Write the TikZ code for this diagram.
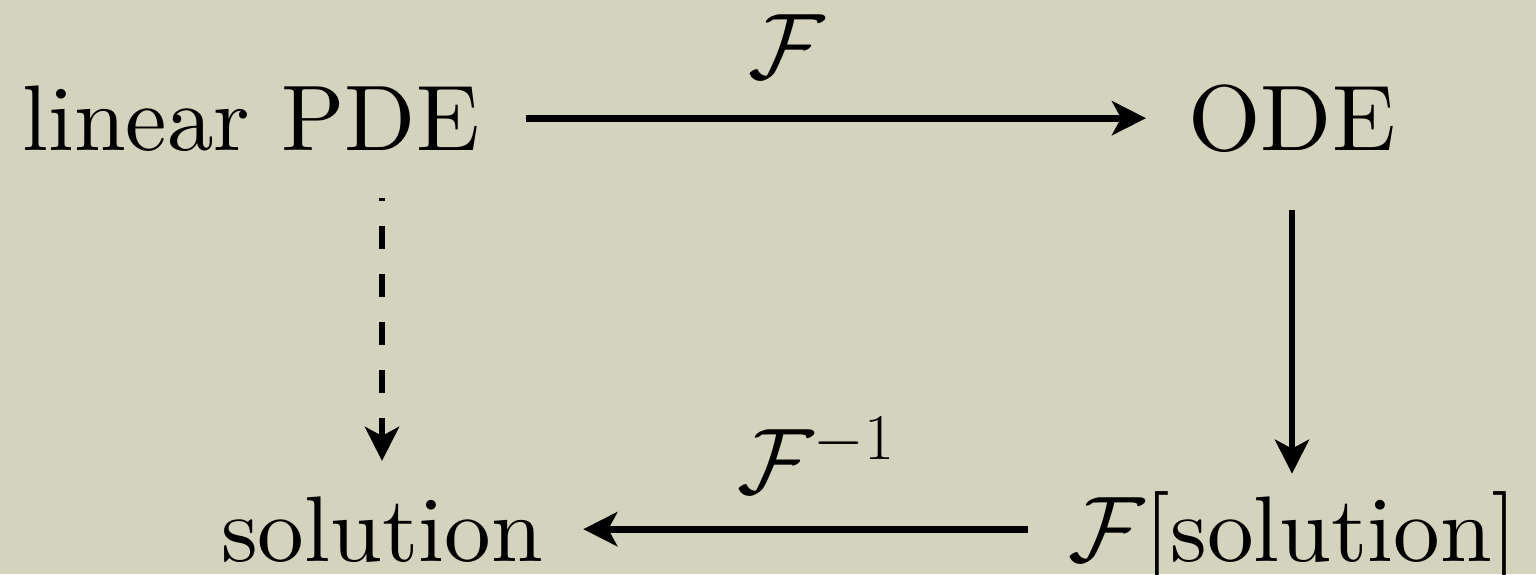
\RequirePackage{fix-cm}
\documentclass[tikz,border=0pt]{standalone}
\usepackage{fontspec}
\setmainfont{lmroman10-regular.otf}
\usetikzlibrary{arrows.meta}
\definecolor{paper}{RGB}{212,212,190}
\begin{document}
\begin{tikzpicture}[x=0.5pt,y=-0.5pt,
  txt/.style={inner sep=0pt, font=\fontsize{46.6}{55}\selectfont, anchor=base},
  arr/.style={line width=3.4pt, -{Stealth[length=17pt,width=17pt,inset=4.5pt]}},
  dsh/.style={arr, dash pattern=on 11.5pt off 12.5pt, dash phase=10pt}]
\useasboundingbox (0,0) rectangle (1536,574);
\fill[paper] (0,0) rectangle (1536,574);
\clip (0,0) rectangle (1536,574);
\node[txt] (lin) at (251,150) {linear PDE};
\node[txt] (ode) at (1292,150) {ODE};
\node[txt] (sol) at (382,561) {solution};
\node[txt] (fsol) at (1293,561) {$\mathcal{F}$[solution]};
\node[txt] (lf) at (787,78) {$\mathcal{F}$};
\node[txt] (lfi) at (816,493) {$\mathcal{F}^{-1}$};
\draw[arr, shorten <=23pt, shorten >=21pt] (lin.east) -- (lin.east -| ode.west);
\draw[arr, shorten <=29pt, shorten >=8.5pt] (ode.south) -- (ode.south |- fsol.north);
\draw[dsh, shorten <=23.5pt, shorten >=17.5pt] (sol.north |- lin.south) -- (sol.north);
\draw[arr, shorten <=20pt, shorten >=20pt] (fsol.west |- sol.east) -- (sol.east);
\end{tikzpicture}
\end{document}
